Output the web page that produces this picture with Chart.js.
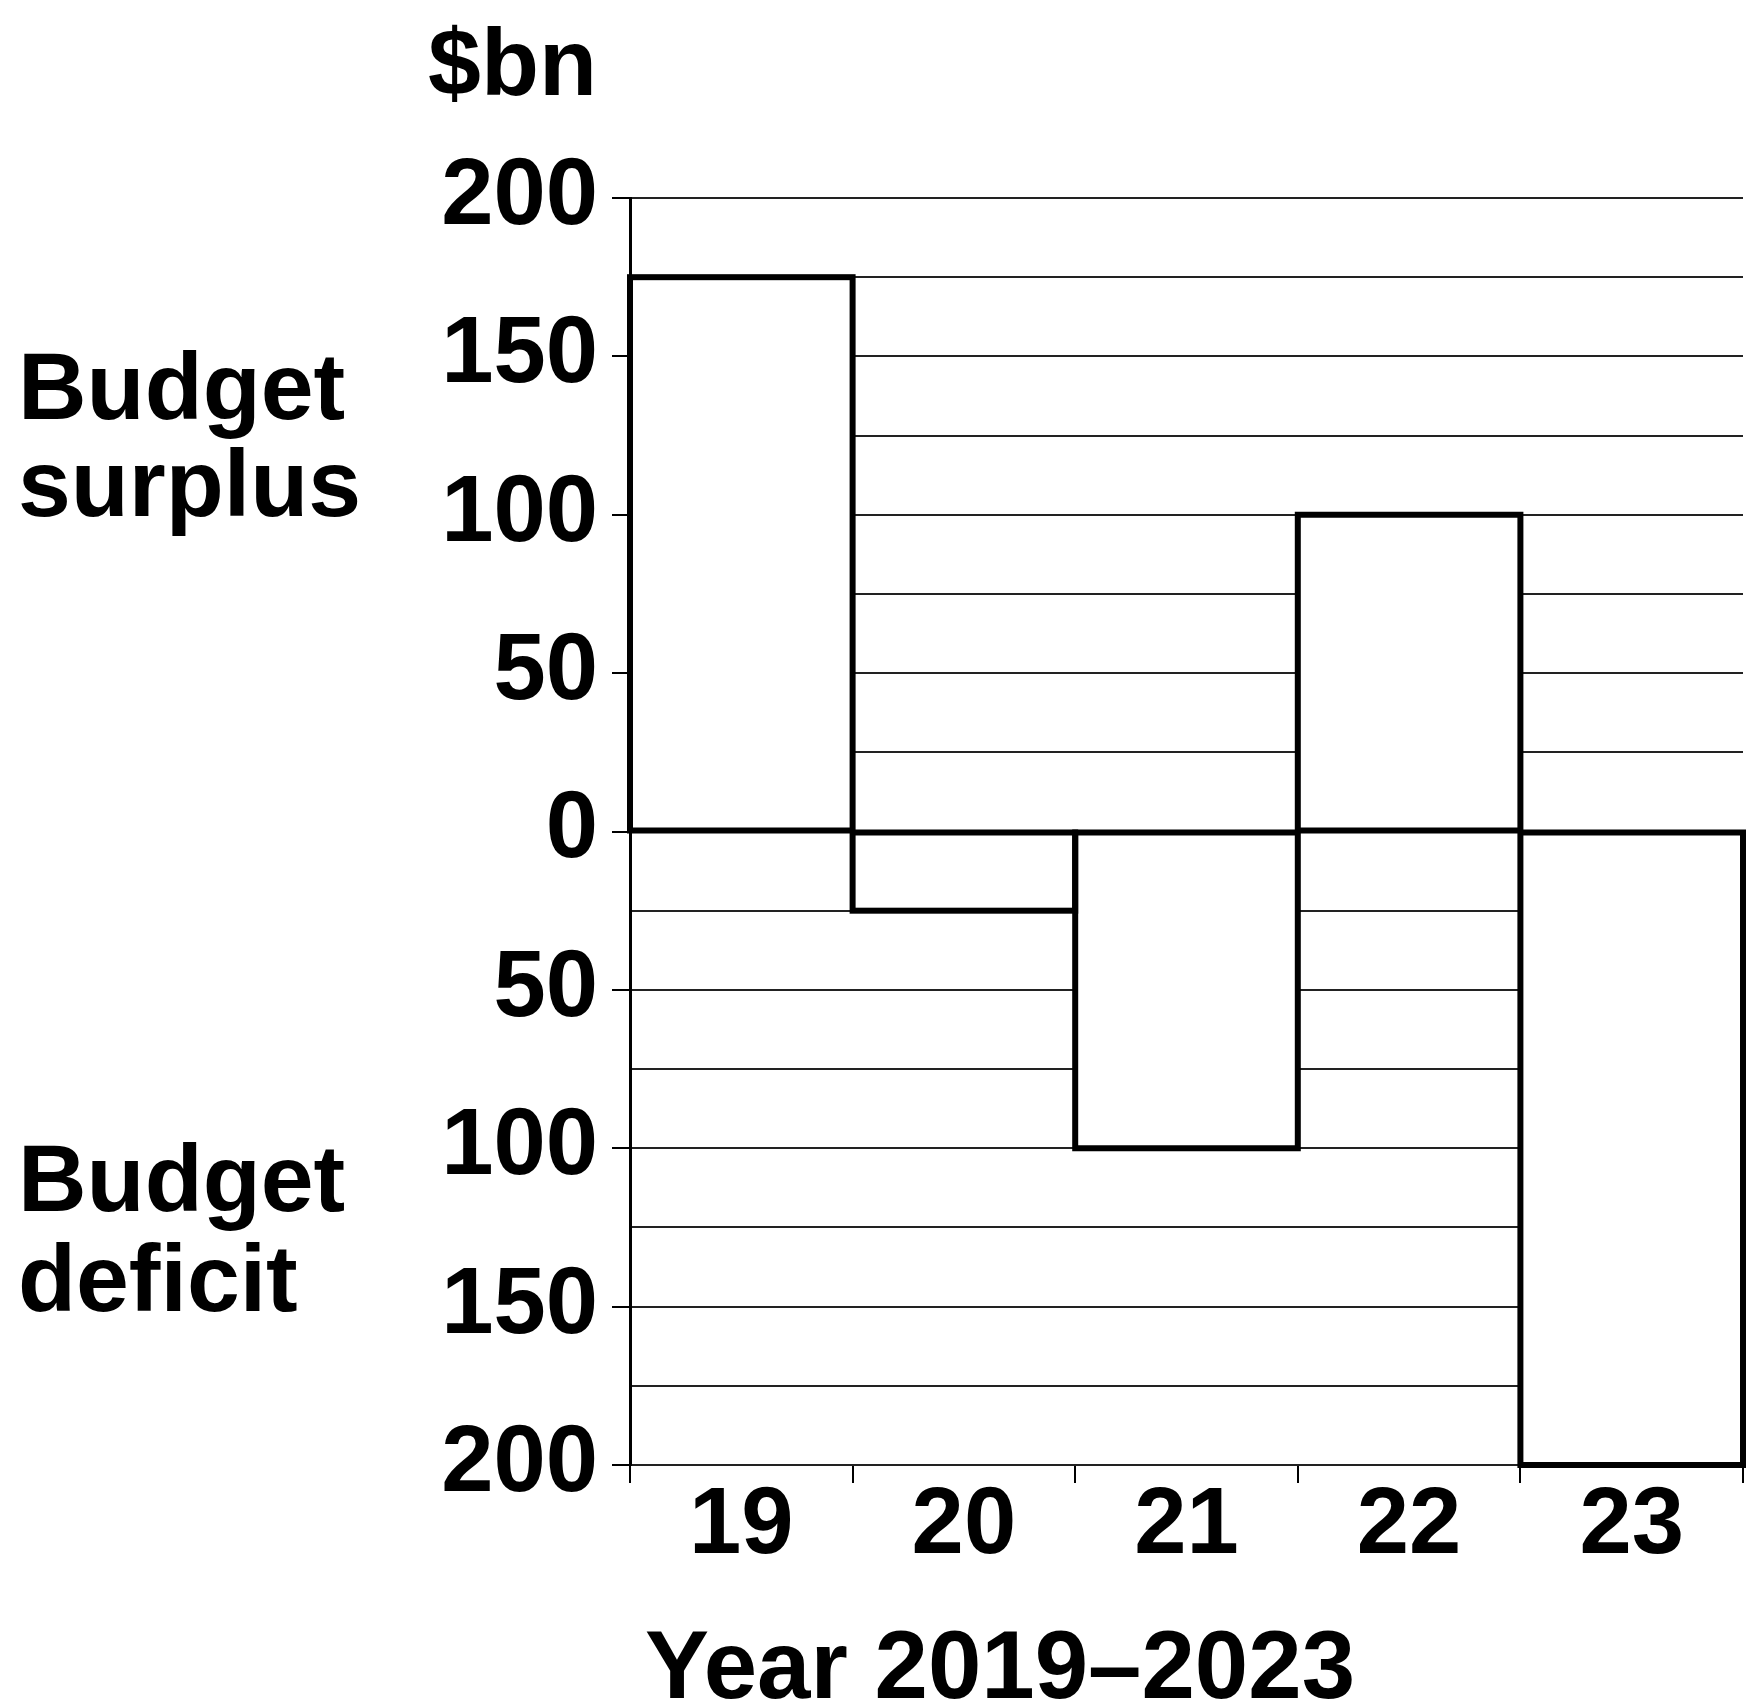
<!DOCTYPE html>
<html>
<head>
<meta charset="utf-8">
<script src="https://cdn.jsdelivr.net/npm/chart.js@4/dist/chart.umd.min.js"></script>
<style>
  html, body { margin: 0; padding: 0; background: #fff; }
  #wrap { width: 1746px; height: 1704px; position: relative; }
</style>
</head>
<body>
<div id="wrap"><canvas id="budgetChart"></canvas></div>
<script>
// years shown on the x axis
const years = ["19", "20", "21", "22", "23"];
// budget balance, $bn (surplus positive, deficit negative)
const balance = [175, -25, -100, 100, -200];
// y axis range and steps
const yMin = -200;
const yMax = 200;
const gridStep = 25;
const labelStep = 50;

const FONT = '"Liberation Sans", Arial, sans-serif';

// outline each bar on its edges (so neighbouring borders merge like the print)
const outlinePlugin = {
  id: "barOutline",
  afterDatasetsDraw(chart) {
    const ctx = chart.ctx;
    const meta = chart.getDatasetMeta(0);
    ctx.save();
    ctx.strokeStyle = "#000";
    ctx.lineWidth = 6;
    ctx.lineJoin = "miter";
    meta.data.forEach((bar) => {
      const p = bar.getProps(["x", "y", "base", "width"], true);
      const top = Math.min(p.y, p.base);
      const h = Math.abs(p.base - p.y);
      ctx.strokeRect(p.x - p.width / 2, top, p.width, h);
    });
    ctx.restore();
  },
};

// texts around the plot
const sidePlugin = {
  id: "sideTexts",
  afterDraw(chart) {
    const ctx = chart.ctx;
    ctx.save();
    ctx.fillStyle = "#000";
    ctx.font = "bold 95px " + FONT;
    ctx.textBaseline = "alphabetic";

    ctx.textAlign = "right";
    ctx.fillText("$bn", 597, 95);

    ctx.textAlign = "left";
    ctx.fillText("Budget", 18, 419);
    ctx.fillText("surplus", 18, 516);
    ctx.fillText("Budget", 18, 1211);
    ctx.fillText("deficit", 18, 1311);

    ctx.font = "bold 96px " + FONT;
    ctx.textAlign = "center";
    ctx.fillText("Year 2019\u20132023", 1000, 1698);
    ctx.restore();
  },
};

new Chart(document.getElementById("budgetChart"), {
  type: "bar",
  data: {
    labels: years,
    datasets: [
      {
        data: balance,
        backgroundColor: "#fff",
        borderWidth: 0,
        barPercentage: 1,
        categoryPercentage: 1,
      },
    ],
  },
  options: {
    responsive: true,
    maintainAspectRatio: false,
    animation: false,
    layout: { padding: { top: 198, right: 3, bottom: 0, left: 0 } },
    plugins: {
      legend: { display: false },
      tooltip: { enabled: false },
    },
    scales: {
      x: {
        grid: {
          drawOnChartArea: false,
          drawTicks: true,
          tickLength: 18,
          color: "#000",
          lineWidth: 2,
        },
        border: { display: true, color: "#222", width: 2 },
        ticks: {
          color: "#000",
          font: { family: FONT, size: 94, weight: "bold" },
          padding: -12,
          maxRotation: 0,
        },
        afterFit(scale) {
          scale.height = 1704 - 1465;
        },
      },
      y: {
        min: yMin,
        max: yMax,
        grid: {
          color: "#222",
          lineWidth: 2,
          tickLength: 18,
          tickColor: (c) =>
            c.tick && c.tick.value % labelStep === 0 ? "#000" : "rgba(0,0,0,0)",
        },
        border: { display: true, color: "#000", width: 3 },
        ticks: {
          stepSize: gridStep,
          maxTicksLimit: 30,
          autoSkip: false,
          color: "#000",
          padding: 14,
          font: { family: FONT, size: 94, weight: "bold" },
          callback: (v) => (v % labelStep === 0 ? String(Math.abs(v)) : ""),
        },
        afterFit(scale) {
          scale.width = 630;
        },
      },
    },
  },
  plugins: [outlinePlugin, sidePlugin],
});
</script>
</body>
</html>
